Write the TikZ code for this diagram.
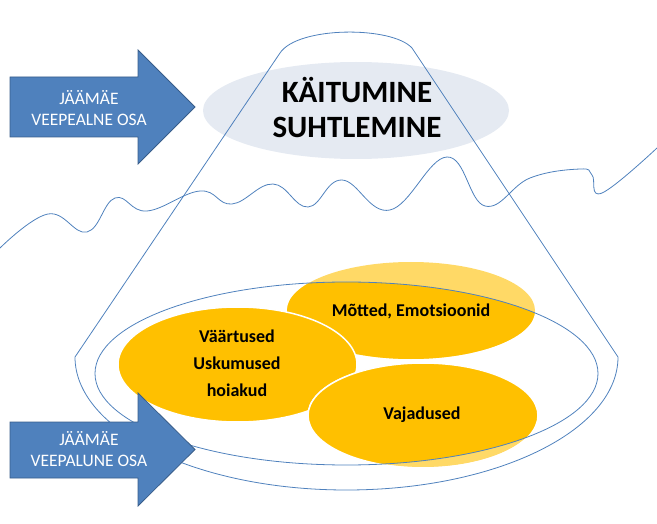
\documentclass[tikz,border=0pt]{standalone}
\usepackage{fontspec}
\setmainfont{Carlito}
\usetikzlibrary{shapes.geometric}
\definecolor{arrowblue}{HTML}{4F81BD}
\definecolor{arrowedge}{HTML}{385D8A}
\definecolor{lineblue}{HTML}{4F81BD}
\definecolor{greyell}{RGB}{229,234,242}
\definecolor{ydark}{HTML}{FFC000}
\definecolor{ylight}{HTML}{FFD966}
\begin{document}
\begin{tikzpicture}[x=1pt,y=-1pt,
  thinline/.style={draw=lineblue, line width=0.8pt},
  bluearrow/.style={fill=arrowblue, draw=arrowedge, line width=0.8pt},
  arrowtext/.style={text=white, font=\fontsize{17.5}{21}\selectfont, align=center, inner sep=0pt},
  ytext/.style={font=\bfseries\fontsize{18}{27}\selectfont, align=center, inner sep=0pt},
  titletext/.style={font=\bfseries\fontsize{31}{35}\selectfont, align=center, inner sep=0pt},
]
\useasboundingbox (0,0) rectangle (657,524);

% grey ellipse behind the title
\fill[greyell] (356,110.5) ellipse [x radius=153pt, y radius=48.5pt];

% water line
\draw[thinline] plot[smooth, tension=0.7] coordinates {(0,248) (48,214) (87,232) (115,198) (147,211) (200,191) (232,204) (273,184) (308,207) (342,180) (390,210) (447,157) (485,206) (530,178) (580,169) (592,175) (602,193) (657,148)};

% iceberg outline
\draw[thinline] (280,53) .. controls (298,26) and (392,26) .. (412,48) -- (618,357)
  .. controls (618,430.4) and (496.4,490) .. (346.5,490)
  .. controls (196.6,490) and (75,430.4) .. (75,357) -- cycle;

% yellow ellipses
\fill[ylight] (411,310.5) ellipse [x radius=124pt, y radius=48.5pt];
\begin{scope}
  \clip (346.5,373.5) ellipse [x radius=251.5pt, y radius=91.5pt];
  \fill[ydark] (411,310.5) ellipse [x radius=124pt, y radius=48.5pt];
\end{scope}
\filldraw[fill=ydark, draw=white, line width=1.5pt] (237.5,364.5) ellipse [x radius=119.5pt, y radius=57.5pt];
\filldraw[fill=ylight, draw=white, line width=1.5pt] (423,415.5) ellipse [x radius=115pt, y radius=52.5pt];
\begin{scope}
  \clip (346.5,373.5) ellipse [x radius=251.5pt, y radius=91.5pt];
  \fill[ydark] (423,415.5) ellipse [x radius=115pt, y radius=52.5pt];
\end{scope}
\draw[white, line width=1.5pt] (423,415.5) ellipse [x radius=115pt, y radius=52.5pt];

% inner ellipse line
\draw[thinline] (346.5,373.5) ellipse [x radius=251.5pt, y radius=91.5pt];

% arrows
\path[bluearrow] (10,77) -- (138,77) -- (138,50) -- (195,107) -- (138,164) -- (138,137) -- (10,137) -- cycle;
\path[bluearrow] (10,422) -- (138,422) -- (138,393) -- (195,449.5) -- (138,506) -- (138,478) -- (10,478) -- cycle;

% texts
\node[titletext] (title) at (357,107.5) {KÄITUMINE\\SUHTLEMINE};
\node[arrowtext] (upper) at (89,108) {JÄÄMÄE\\VEEPEALNE OSA};
\node[arrowtext] (lower) at (89,449.5) {JÄÄMÄE\\VEEPALUNE OSA};
\node[ytext] (motted) at (411,311) {Mõtted, Emotsioonid};
\node[ytext] (vaartused) at (237,363) {Väärtused\\Uskumused\\hoiakud};
\node[ytext] (vajadused) at (422,415) {Vajadused};
\end{tikzpicture}
\end{document}
